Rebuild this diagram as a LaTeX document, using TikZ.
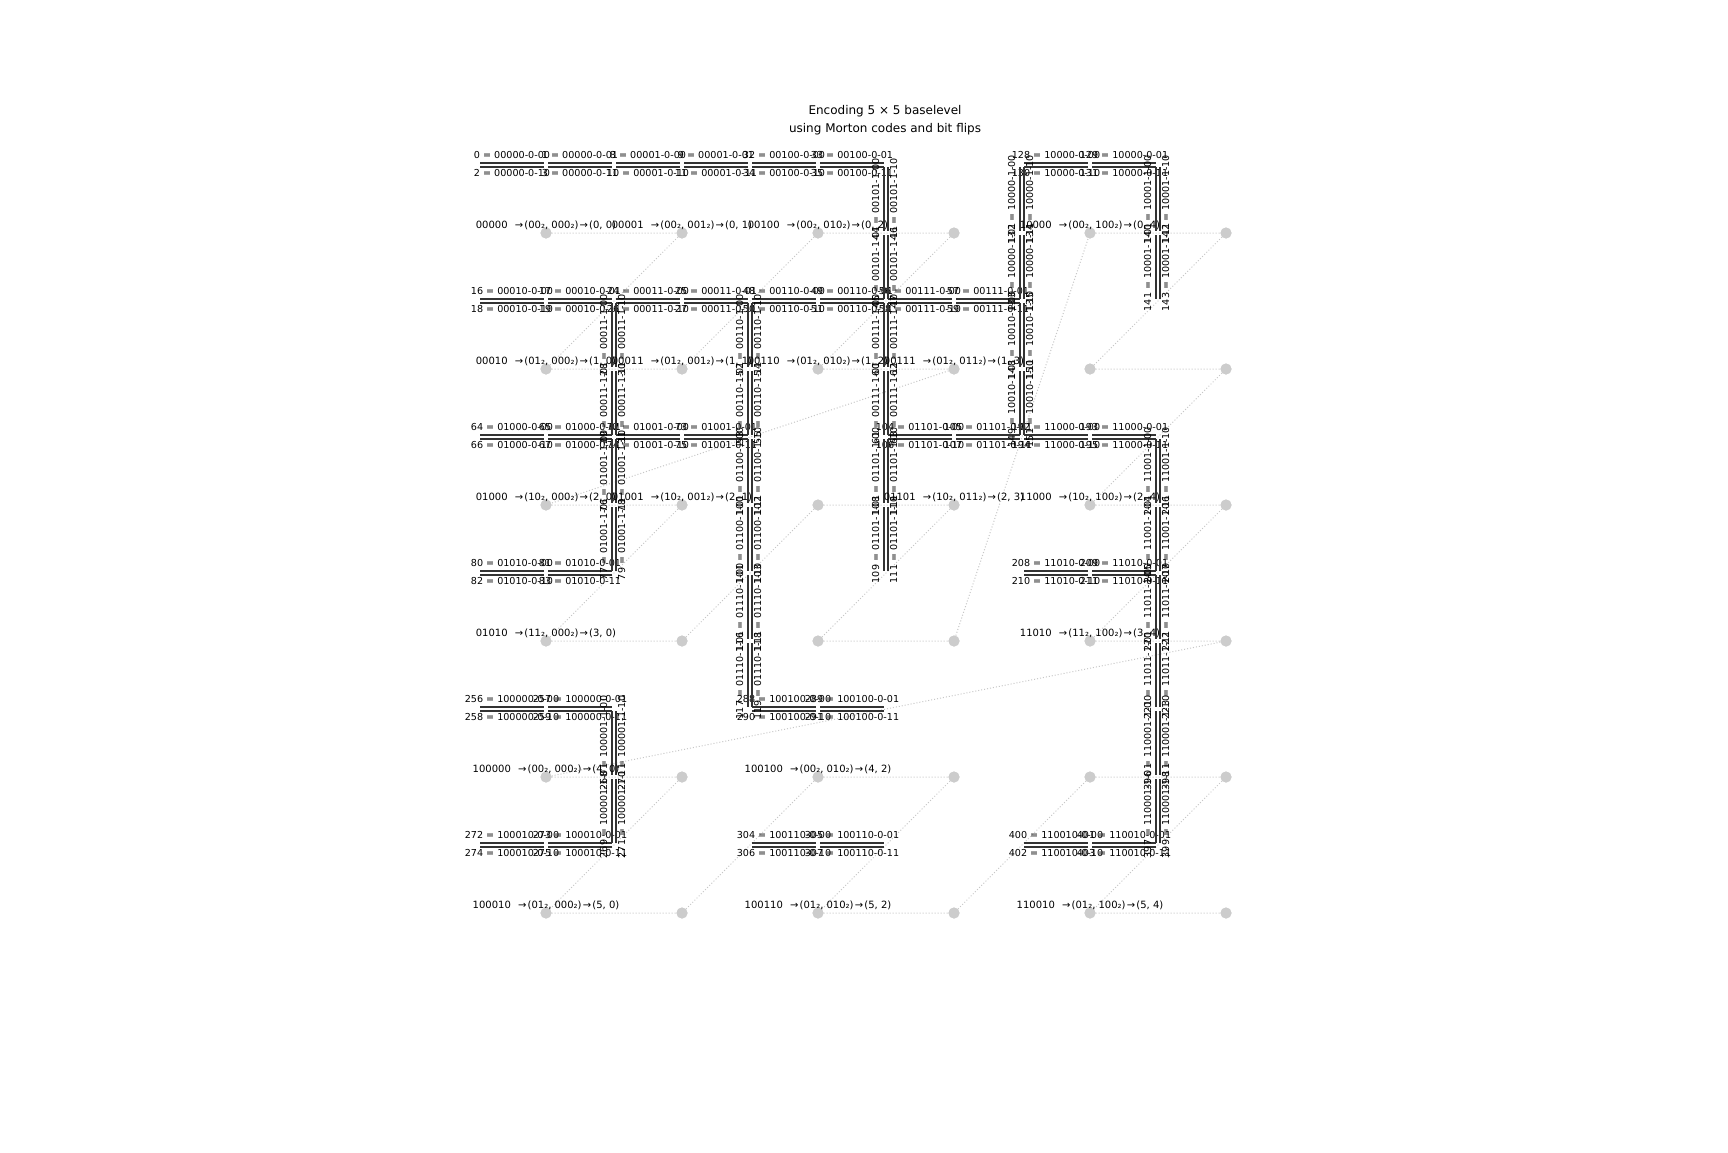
\documentclass[tikz,border=0pt]{standalone}
\usepackage{fontspec}
\setmainfont{DejaVu Sans}
\tikzset{
 eline/.style={draw=black!80, line width=2pt},
 elab/.style={font=\fontsize{9.6}{9.6}\selectfont, inner sep=0pt, text=black},
 vlab/.style={elab, rotate=90},
 dot/.style={circle, fill=black!20, draw=none, minimum size=11pt, inner sep=0pt},
 zline/.style={draw=black!22, line width=1pt, dash pattern=on 1pt off 2pt},
 dlab/.style={font=\fontsize{10}{10}\selectfont, inner sep=0pt, anchor=base},
}
\newcommand\HEdge[4]{%
  \pgfmathsetmacro\ex{478+136*#2}%
  \pgfmathsetmacro\ey{165+136*#1}%
  \pgfmathtruncatemacro\na{#4}%
  \pgfmathtruncatemacro\nb{#4+1}%
  \pgfmathtruncatemacro\nc{#4+2}%
  \pgfmathtruncatemacro\nd{#4+3}%
  \draw[eline] (\ex+2,\ey-1.6) -- (\ex+66,\ey-1.6);
  \draw[eline] (\ex+70,\ey-1.6) -- (\ex+134,\ey-1.6);
  \draw[eline] (\ex+2,\ey+1.6) -- (\ex+66,\ey+1.6);
  \draw[eline] (\ex+70,\ey+1.6) -- (\ex+134,\ey+1.6);
  \node[elab] (e\na) at (\ex+34,\ey-10.5) {\na{} = #3-0-00};
  \node[elab] (e\nb) at (\ex+102,\ey-10.5) {\nb{} = #3-0-01};
  \node[elab] (e\nc) at (\ex+34,\ey+7.5) {\nc{} = #3-0-10};
  \node[elab] (e\nd) at (\ex+102,\ey+7.5) {\nd{} = #3-0-11};
}
\newcommand\VEdge[4]{%
  \pgfmathsetmacro\ex{478+136*#2}%
  \pgfmathsetmacro\ey{165+136*#1}%
  \pgfmathtruncatemacro\na{#4}%
  \pgfmathtruncatemacro\nb{#4+1}%
  \pgfmathtruncatemacro\nc{#4+2}%
  \pgfmathtruncatemacro\nd{#4+3}%
  \draw[eline] (\ex-1.6,\ey+2) -- (\ex-1.6,\ey+66);
  \draw[eline] (\ex-1.6,\ey+70) -- (\ex-1.6,\ey+134);
  \draw[eline] (\ex+1.6,\ey+2) -- (\ex+1.6,\ey+66);
  \draw[eline] (\ex+1.6,\ey+70) -- (\ex+1.6,\ey+134);
  \node[vlab] (e\na) at (\ex-10.5,\ey+34) {\na{} = #3-1-00};
  \node[vlab] (e\nb) at (\ex-10.5,\ey+102) {\nb{} = #3-1-01};
  \node[vlab] (e\nc) at (\ex+7.5,\ey+34) {\nc{} = #3-1-10};
  \node[vlab] (e\nd) at (\ex+7.5,\ey+102) {\nd{} = #3-1-11};
}
\newcommand\DLab[3]{\node[dlab] (l#1#2) at ({546+136*#2},{233+136*#1-4.5}) {#3};}
\newcommand\Arr{\hspace{0.12em}→\hspace{0.12em}}
\begin{document}
\begin{tikzpicture}[x=1pt,y=-1pt]
\fill[white] (0,0) rectangle (1728,1152);
\useasboundingbox (0,0) rectangle (1728,1152);
\node[font=\fontsize{12}{18}\selectfont, align=center, inner sep=0pt] (title) at (885,120) {Encoding 5 × 5 baselevel\\using Morton codes and bit flips};
\foreach \r in {0,...,5}{\foreach \c in {0,...,5}{\node[dot] (d\r\c) at ({546+136*\c},{233+136*\r}) {};}}
\draw[zline] (d00)--(d01)--(d10)--(d11)--(d02)--(d03)--(d12)--(d13)--(d20)--(d21)--(d30)--(d31)--(d22)--(d23)--(d32)--(d33)--(d04)--(d05)--(d14)--(d15)--(d24)--(d25)--(d34)--(d35)--(d40)--(d41)--(d50)--(d51)--(d42)--(d43)--(d52)--(d53)--(d44)--(d45)--(d54)--(d55);
\foreach \r in {0,...,5}{\foreach \c in {0,...,5}{\fill[black!20] (d\r\c) circle (5.5);}}
% top edges
\HEdge{0}{0}{00000}{0}
\HEdge{0}{1}{00001}{8}
\HEdge{0}{2}{00100}{32}
\HEdge{0}{4}{10000}{128}
\HEdge{1}{0}{00010}{16}
\HEdge{1}{1}{00011}{24}
\HEdge{1}{2}{00110}{48}
\HEdge{1}{3}{00111}{56}
\HEdge{2}{0}{01000}{64}
\HEdge{2}{1}{01001}{72}
\HEdge{2}{3}{01101}{104}
\HEdge{2}{4}{11000}{192}
\HEdge{3}{0}{01010}{80}
\HEdge{3}{4}{11010}{208}
\HEdge{4}{0}{100000}{256}
\HEdge{4}{2}{100100}{288}
\HEdge{5}{0}{100010}{272}
\HEdge{5}{2}{100110}{304}
\HEdge{5}{4}{110010}{400}
% left edges
\VEdge{0}{3}{00101}{44}
\VEdge{1}{3}{00111}{60}
\VEdge{2}{3}{01101}{108}
\VEdge{0}{4}{10000}{132}
\VEdge{1}{4}{10010}{148}
\VEdge{0}{5}{10001}{140}
\VEdge{2}{5}{11001}{204}
\VEdge{3}{5}{11011}{220}
\VEdge{4}{5}{110001}{396}
\VEdge{1}{1}{00011}{28}
\VEdge{2}{1}{01001}{76}
\VEdge{4}{1}{100001}{268}
\VEdge{1}{2}{00110}{52}
\VEdge{2}{2}{01100}{100}
\VEdge{3}{2}{01110}{116}
% dot labels
\DLab{0}{0}{00000\hspace{0.6em}\Arr(00₂, 000₂)\Arr(0, 0)}
\DLab{0}{1}{00001\hspace{0.6em}\Arr(00₂, 001₂)\Arr(0, 1)}
\DLab{0}{2}{00100\hspace{0.6em}\Arr(00₂, 010₂)\Arr(0, 2)}
\DLab{0}{4}{10000\hspace{0.6em}\Arr(00₂, 100₂)\Arr(0, 4)}
\DLab{1}{0}{00010\hspace{0.6em}\Arr(01₂, 000₂)\Arr(1, 0)}
\DLab{1}{1}{00011\hspace{0.6em}\Arr(01₂, 001₂)\Arr(1, 1)}
\DLab{1}{2}{00110\hspace{0.6em}\Arr(01₂, 010₂)\Arr(1, 2)}
\DLab{1}{3}{00111\hspace{0.6em}\Arr(01₂, 011₂)\Arr(1, 3)}
\DLab{2}{0}{01000\hspace{0.6em}\Arr(10₂, 000₂)\Arr(2, 0)}
\DLab{2}{1}{01001\hspace{0.6em}\Arr(10₂, 001₂)\Arr(2, 1)}
\DLab{2}{3}{01101\hspace{0.6em}\Arr(10₂, 011₂)\Arr(2, 3)}
\DLab{2}{4}{11000\hspace{0.6em}\Arr(10₂, 100₂)\Arr(2, 4)}
\DLab{3}{0}{01010\hspace{0.6em}\Arr(11₂, 000₂)\Arr(3, 0)}
\DLab{3}{4}{11010\hspace{0.6em}\Arr(11₂, 100₂)\Arr(3, 4)}
\DLab{4}{0}{100000\hspace{0.6em}\Arr(00₂, 000₂)\Arr(4, 0)}
\DLab{4}{2}{100100\hspace{0.6em}\Arr(00₂, 010₂)\Arr(4, 2)}
\DLab{5}{0}{100010\hspace{0.6em}\Arr(01₂, 000₂)\Arr(5, 0)}
\DLab{5}{2}{100110\hspace{0.6em}\Arr(01₂, 010₂)\Arr(5, 2)}
\DLab{5}{4}{110010\hspace{0.6em}\Arr(01₂, 100₂)\Arr(5, 4)}
\end{tikzpicture}
\end{document}
